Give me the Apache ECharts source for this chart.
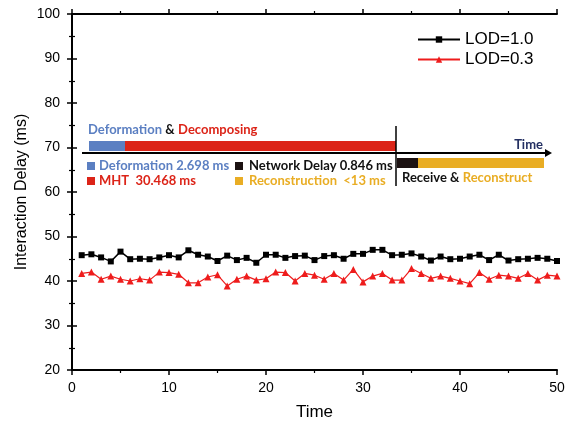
<!DOCTYPE html>
<html>
<head>
<meta charset="utf-8">
<script src="https://cdn.jsdelivr.net/npm/echarts@6/dist/echarts.min.js"></script>
<style>
  html, body { margin: 0; padding: 0; background: #fff; }
  #main { width: 570px; height: 427px; }
</style>
</head>
<body>
<div id="main"></div>
<script>
// time steps 1..50
const times = [];
for (let i = 1; i <= 50; i++) times.push(i);

const lod10 = [45.8, 46.0, 45.3, 44.4, 46.6, 44.9, 45.0, 44.9, 45.3, 45.8,
               45.3, 46.9, 45.9, 45.5, 44.5, 45.7, 44.7, 45.2, 44.1, 45.9,
               45.9, 45.2, 45.6, 45.7, 44.7, 45.6, 45.8, 45.0, 46.1, 46.1,
               47.0, 47.0, 45.8, 45.9, 46.2, 45.5, 44.6, 45.5, 44.9, 45.0,
               45.5, 45.9, 44.7, 45.9, 44.6, 44.9, 45.0, 45.2, 45.0, 44.5];

const lod03 = [41.7, 42.0, 40.4, 41.1, 40.4, 40.0, 40.5, 40.2, 42.0, 41.9,
               41.5, 39.6, 39.6, 40.9, 41.4, 38.9, 40.4, 41.1, 40.2, 40.5,
               42.0, 41.9, 40.0, 41.7, 41.3, 40.4, 41.7, 40.2, 42.6, 39.8,
               41.1, 41.7, 40.2, 40.2, 42.8, 41.7, 40.6, 41.1, 40.6, 40.0,
               39.4, 41.9, 40.4, 41.3, 41.1, 40.6, 41.7, 40.2, 41.3, 41.1];

const seriesNames = ['LOD=1.0', 'LOD=0.3'];

// inset diagram texts
const stageLabels = ['Deformation 2.698 ms', 'MHT  30.468 ms', 'Network Delay 0.846 ms', 'Reconstruction  <13 ms'];

const C_BLUE = '#5b7fc2';
const C_RED = '#dc2418';
const C_DARK = '#1c1212';
const C_YELLOW = '#e9ad24';
const FONT_B = 'Lato';

function pts(arr) {
  return arr.map((v, i) => [times[i], v]);
}

function swatch(x, y, color) {
  return { type: 'rect', shape: { x: x, y: y, width: 8, height: 8 }, style: { fill: color } };
}
function label(x, y, text, color) {
  return {
    type: 'text', x: x, y: y,
    style: { text: text, fill: color, font: 'bold 13px ' + FONT_B, textVerticalAlign: 'middle' }
  };
}

const chart = echarts.init(document.getElementById('main'));

const axisCommon = {
  axisLine: { show: true, lineStyle: { color: '#000', width: 2 } },
  axisTick: { show: true, length: 5, lineStyle: { color: '#000', width: 1.5 } },
  minorTick: { show: true, splitNumber: 2, length: 3, lineStyle: { color: '#000', width: 1.2 } },
  splitLine: { show: false }
};

chart.setOption({
  animation: false,
  backgroundColor: '#fff',
  grid: { left: 72, right: 13, top: 14, bottom: 57 },
  legend: {
    data: seriesNames,
    orient: 'vertical',
    left: 412,
    top: 26,
    itemWidth: 42,
    itemHeight: 8,
    itemGap: 3,
    textStyle: { fontFamily: 'Liberation Sans', fontSize: 17, color: '#000' }
  },
  xAxis: [
    Object.assign({
      type: 'value', min: 0, max: 50, interval: 10,
      name: 'Time', nameLocation: 'middle', nameGap: 34,
      nameTextStyle: { fontFamily: 'Liberation Sans', fontSize: 17, color: '#000' },
      axisLabel: { fontFamily: 'Liberation Sans', fontSize: 14, color: '#000', margin: 11 }
    }, axisCommon),
    Object.assign({
      type: 'value', min: 0, max: 50, interval: 10, position: 'top',
      axisLabel: { show: false }
    }, axisCommon)
  ],
  yAxis: [
    Object.assign({
      type: 'value', min: 20, max: 100, interval: 10,
      name: 'Interaction Delay (ms)', nameLocation: 'middle', nameGap: 42,
      nameMoveOverlap: false,
      nameTextStyle: { fontFamily: 'Liberation Sans', fontSize: 16, color: '#000' },
      axisLabel: { fontFamily: 'Liberation Sans', fontSize: 14, color: '#000', margin: 12 }
    }, axisCommon),
    Object.assign({
      type: 'value', min: 20, max: 100, interval: 10, position: 'right',
      axisLabel: { show: false }
    }, axisCommon)
  ],
  series: [
    {
      name: seriesNames[0], type: 'line', data: pts(lod10),
      symbol: 'rect', symbolSize: 6, showAllSymbol: true,
      lineStyle: { color: '#000', width: 1.5 },
      itemStyle: { color: '#000' }
    },
    {
      name: seriesNames[1], type: 'line', data: pts(lod03),
      symbol: 'triangle', symbolSize: 7, showAllSymbol: true,
      lineStyle: { color: '#ee1c1c', width: 1.2 },
      itemStyle: { color: '#ee1c1c' }
    }
  ],
  graphic: [
    {
      type: 'text', x: 88, y: 130,
      style: {
        text: '{b|Deformation} {k|&} {r|Decomposing}',
        textVerticalAlign: 'middle',
        rich: {
          b: { fill: C_BLUE, font: 'bold 13px ' + FONT_B },
          k: { fill: '#111', font: 'bold 13px ' + FONT_B },
          r: { fill: C_RED, font: 'bold 13px ' + FONT_B }
        }
      }
    },
    { type: 'rect', shape: { x: 89, y: 141, width: 36, height: 10 }, style: { fill: C_BLUE } },
    { type: 'rect', shape: { x: 125, y: 141, width: 271, height: 10 }, style: { fill: C_RED } },
    { type: 'line', shape: { x1: 82, y1: 153, x2: 546, y2: 153 }, style: { stroke: '#000', lineWidth: 2 } },
    { type: 'polygon', shape: { points: [[545, 149], [552, 153], [545, 157]] }, style: { fill: '#000' } },
    { type: 'line', shape: { x1: 396, y1: 126, x2: 396, y2: 186 }, style: { stroke: '#000', lineWidth: 1.5 } },
    { type: 'rect', shape: { x: 397, y: 158, width: 21, height: 10 }, style: { fill: C_DARK } },
    { type: 'rect', shape: { x: 418, y: 158, width: 126, height: 10 }, style: { fill: C_YELLOW } },
    {
      type: 'text', x: 543, y: 145,
      style: { text: 'Time', fill: '#243062', font: 'bold 13px ' + FONT_B, textAlign: 'right', textVerticalAlign: 'middle' }
    },
    {
      type: 'text', x: 402, y: 178,
      style: {
        text: '{k|Receive &} {y|Reconstruct}',
        textVerticalAlign: 'middle',
        rich: {
          k: { fill: '#111', font: 'bold 13px ' + FONT_B },
          y: { fill: C_YELLOW, font: 'bold 13px ' + FONT_B }
        }
      }
    },
    swatch(87, 162, C_BLUE),
    label(99, 166, stageLabels[0], C_BLUE),
    swatch(87, 177, C_RED),
    label(99, 181, stageLabels[1], C_RED),
    swatch(235, 162, C_DARK),
    label(249, 166, stageLabels[2], '#111'),
    swatch(235, 177, C_YELLOW),
    label(249, 181, stageLabels[3], C_YELLOW)
  ]
});
</script>
</body>
</html>
